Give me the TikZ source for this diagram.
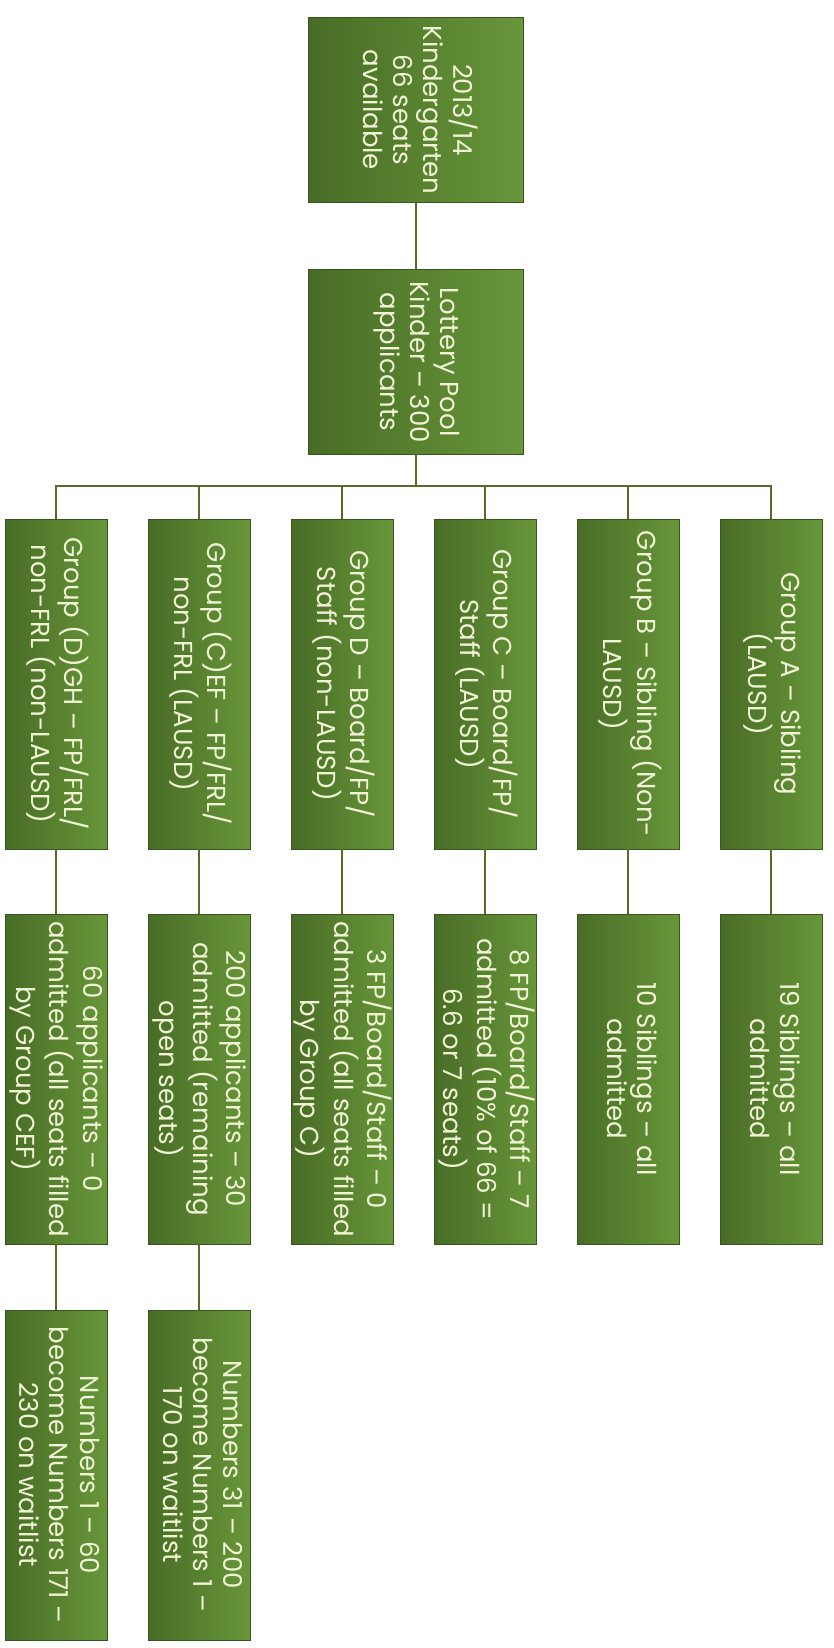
\documentclass[tikz,border=0pt]{standalone}
\usepackage{fontspec}
\setmainfont{Poppins}
\usepackage{graphicx}
\usetikzlibrary{positioning}

\definecolor{boxleft}{RGB}{72,108,38}
\definecolor{boxright}{RGB}{104,150,58}
\definecolor{boxline}{RGB}{58,84,30}
\definecolor{wirecol}{RGB}{98,102,42}
\definecolor{ink}{RGB}{240,244,212}

% text turned to read top to bottom
\newcommand{\vtext}[1]{\rotatebox{-90}{\begin{tabular}{@{}c@{}}#1\end{tabular}}}

\begin{document}
\begin{tikzpicture}[x=1pt,y=1pt,node distance=143pt]
  \useasboundingbox (0,0) rectangle (834,-1648);
  \tikzset{
    greenbox/.style={rectangle,draw=boxline,line width=0.8pt,left color=boxleft,right color=boxright,
      inner sep=0pt,text=ink,font=\fontsize{26}{30}\selectfont},
    topbox/.style={greenbox,minimum width=215pt,minimum height=185pt},
    groupbox/.style={greenbox,minimum width=102pt,minimum height=330pt},
    resultDist/.style={node distance=395pt},
    waitDist/.style={node distance=396pt},
    % connector style
    wire/.style={draw=wirecol,line width=2pt}
  }

  % Top
  \node [topbox] (root) at (416,-110) {\vtext{2013/14\\Kindergarten\\66 seats\\available}};
  \node [topbox] (lottery) [below of=root, node distance=252pt] {\vtext{Lottery Pool\\Kinder -- 300\\applicants}}
  edge [wire] (root);

  % Groups
  \node [groupbox] (gDGH) at (56,-684) {\vtext{Group (D)GH -- FP/FRL/\\non-FRL (non-LAUSD)}};
  \node [groupbox] (gCEF) [right of=gDGH] {\vtext{Group (C)EF -- FP/FRL/\\non-FRL (LAUSD)}};
  \node [groupbox] (gD) [right of=gCEF] {\vtext{Group D -- Board/FP/\\Staff (non-LAUSD)}};
  \node [groupbox] (gC) [right of=gD] {\vtext{Group C -- Board/FP/\\Staff (LAUSD)}};
  \node [groupbox] (gB) [right of=gC] {\vtext{Group B -- Sibling (Non-\\LAUSD)}};
  \node [groupbox] (gA) [right of=gB] {\vtext{Group A -- Sibling\\(LAUSD)}};

  % Admitted
  \node [groupbox,resultDist] (rDGH) [below of=gDGH] {\vtext{60 applicants -- 0\\admitted (all seats filled\\by Group CEF)}}
  edge [wire] (gDGH);
  \node [groupbox,resultDist] (rCEF) [below of=gCEF] {\vtext{200 applicants -- 30\\admitted (remaining\\open seats)}}
  edge [wire] (gCEF);
  \node [groupbox,resultDist] (rD) [below of=gD] {\vtext{3 FP/Board/Staff -- 0\\admitted (all seats filled\\by Group C)}}
  edge [wire] (gD);
  \node [groupbox,resultDist] (rC) [below of=gC] {\vtext{8 FP/Board/Staff -- 7\\admitted (10\% of 66 =\\6.6 or 7 seats)}}
  edge [wire] (gC);
  \node [groupbox,resultDist] (rB) [below of=gB] {\vtext{10 Siblings -- all\\admitted}}
  edge [wire] (gB);
  \node [groupbox,resultDist] (rA) [below of=gA] {\vtext{19 Siblings -- all\\admitted}}
  edge [wire] (gA);

  % Waitlist
  \node [groupbox,waitDist] (wDGH) [below of=rDGH] {\vtext{Numbers 1 -- 60\\become Numbers 171 --\\230 on waitlist}}
  edge [wire] (rDGH);
  \node [groupbox,waitDist] (wCEF) [below of=rCEF] {\vtext{Numbers 31 -- 200\\become Numbers 1 --\\170 on waitlist}}
  edge [wire] (rCEF);

  % Bus
  \coordinate (bus) at (416,-486);
  \draw [wire] (lottery.south) -- (bus);
  \foreach \g in {gDGH,gCEF,gD,gC,gB,gA}
    \draw [wire] (bus) -| (\g.north);

\end{tikzpicture}
\end{document}
